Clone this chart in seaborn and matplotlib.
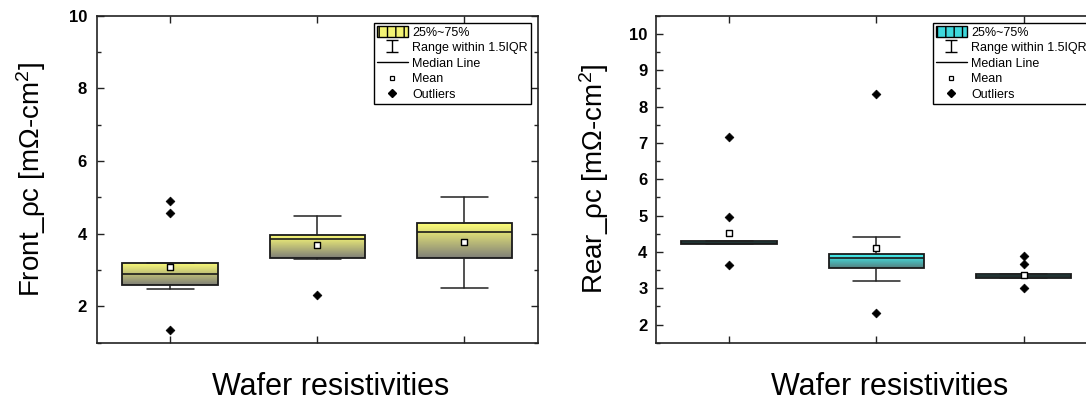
import numpy as np
import matplotlib
matplotlib.use('Agg')
import matplotlib.pyplot as plt
import seaborn as sns
from matplotlib.path import Path
from matplotlib.patches import Patch
from matplotlib.lines import Line2D
from matplotlib.ticker import MultipleLocator, NullLocator

# box statistics (three wafer groups per panel)
positions = [0, 1, 2]

front_q1 = [2.58, 3.32, 3.34]
front_med = [2.90, 3.86, 4.04]
front_q3 = [3.20, 3.97, 4.29]
front_lo = [2.47, 3.30, 2.50]
front_hi = [3.20, 4.50, 5.02]
front_mean = [3.09, 3.69, 3.78]
front_fliers = [[4.91, 4.56, 1.34], [2.30], []]

rear_q1 = [4.22, 3.57, 3.27]
rear_med = [4.25, 3.83, 3.33]
rear_q3 = [4.29, 3.94, 3.39]
rear_lo = [4.22, 3.19, 3.27]
rear_hi = [4.29, 4.41, 3.39]
rear_mean = [4.53, 4.12, 3.35]
rear_fliers = [[7.16, 4.97, 3.63], [8.34, 2.32], [3.88, 3.66, 3.00]]

legend_labels = ['25%~75%', 'Range within 1.5IQR', 'Median Line', 'Mean', 'Outliers']

sns.set_theme(style='ticks')
plt.rcParams['font.family'] = ['Liberation Sans', 'DejaVu Sans']
plt.rcParams['mathtext.fontset'] = 'custom'
plt.rcParams['mathtext.rm'] = 'Liberation Sans'
plt.rcParams['mathtext.it'] = 'Liberation Sans:italic'
plt.rcParams['mathtext.bf'] = 'Liberation Sans:bold'
plt.rcParams['text.color'] = 'black'
plt.rcParams['axes.labelcolor'] = 'black'
plt.rcParams['xtick.color'] = 'black'
plt.rcParams['ytick.color'] = 'black'

# I-beam marker for the whisker legend entry
ibeam = Path([(-1, 1), (1, 1), (0, 1), (0, -1), (-1, -1), (1, -1)],
             [Path.MOVETO, Path.LINETO, Path.MOVETO, Path.LINETO, Path.MOVETO, Path.LINETO])


def draw_panel(ax, q1, med, q3, lo, hi, mean, fliers, top_rgb, bot_rgb, swatch):
    stats = []
    for i in range(len(positions)):
        stats.append(dict(q1=q1[i], med=med[i], q3=q3[i], whislo=lo[i], whishi=hi[i],
                          mean=mean[i], fliers=[]))
    bp = ax.bxp(stats, positions=positions, widths=0.65, capwidths=0.32,
                patch_artist=True, showfliers=False, showmeans=False,
                boxprops=dict(facecolor='none', edgecolor='#1a1a1a', linewidth=1.3),
                medianprops=dict(color='#1a1a1a', linewidth=1.2),
                whiskerprops=dict(color='#222222', linewidth=1.1),
                capprops=dict(color='#222222', linewidth=1.1))

    t = np.linspace(0, 1, 100)[:, None, None]
    grad = np.array(top_rgb)[None, None, :] * (1 - t) + np.array(bot_rgb)[None, None, :] * t
    for i, box in enumerate(bp['boxes']):
        im = ax.imshow(grad, extent=(positions[i] - 0.325, positions[i] + 0.325, q1[i], q3[i]),
                       origin='upper', aspect='auto', zorder=1.5, interpolation='bilinear')
        im.set_clip_path(box)

    fx = [positions[i] for i, f in enumerate(fliers) for _ in f]
    fy = [v for f in fliers for v in f]
    sns.scatterplot(x=fx, y=fy, marker='D', color='black', s=20, edgecolor='black',
                    linewidth=0.5, ax=ax, zorder=4)
    sns.scatterplot(x=positions, y=mean, marker='s', facecolor='white', edgecolor='black',
                    s=13, linewidth=1.0, ax=ax, zorder=4)

    handles = [
        Patch(facecolor=swatch, edgecolor='black', hatch='||', linewidth=1.0),
        Line2D([], [], color='black', marker=ibeam, markersize=9, linestyle='None',
               markerfacecolor='none', markeredgewidth=1.0),
        Line2D([], [], color='black', linewidth=1.0),
        Line2D([], [], color='black', marker='s', markersize=3.5, linestyle='None',
               markerfacecolor='white', markeredgewidth=0.9),
        Line2D([], [], color='black', marker='D', markersize=4, linestyle='None'),
    ]
    leg = ax.legend(handles, legend_labels, loc='upper right', fontsize=9, frameon=True,
                    fancybox=False, framealpha=1, edgecolor='black', borderpad=0.2,
                    labelspacing=0.22, handlelength=2.5, handleheight=1.0,
                    handletextpad=0.35, borderaxespad=0.6)
    leg.get_frame().set_linewidth(1.0)

    ax.set_xlim(-0.5, 2.5)
    ax.set_xticks(positions)
    ax.xaxis.set_minor_locator(NullLocator())
    ax.tick_params(axis='x', which='both', labelbottom=False)
    ax.tick_params(which='both', direction='in', top=True, right=True, color='#222222')
    ax.tick_params(which='major', length=5, width=1.0)
    ax.tick_params(which='minor', length=3, width=1.0)
    for s in ax.spines.values():
        s.set_linewidth(1.2)
        s.set_color('#222222')
    ax.set_xlabel('Wafer resistivities', fontsize=22, labelpad=0)
    ax.xaxis.set_label_coords(0.531, -0.09)


fig = plt.figure(figsize=(10.86, 4.05), dpi=100)
ax1 = fig.add_axes([0.0890, 0.1538, 0.4064, 0.8074])
ax2 = fig.add_axes([0.6038, 0.1538, 0.4064, 0.8074])

draw_panel(ax1, front_q1, front_med, front_q3, front_lo, front_hi, front_mean, front_fliers,
           (1.0, 1.0, 0.47), (0.50, 0.50, 0.47), '#f2f274')
ax1.set_ylim(1.0, 10.0)
ax1.yaxis.set_major_locator(MultipleLocator(2))
ax1.yaxis.set_minor_locator(MultipleLocator(1))
ax1.tick_params(axis='y', labelsize=12, pad=7)
for lab in ax1.get_yticklabels():
    lab.set_fontweight('bold')
ax1.set_ylabel(r'Front_ρc [mΩ-cm$^2$]', fontsize=20)
ax1.yaxis.set_label_coords(-0.110, 0.5)

draw_panel(ax2, rear_q1, rear_med, rear_q3, rear_lo, rear_hi, rear_mean, rear_fliers,
           (0.25, 0.95, 0.95), (0.33, 0.50, 0.50), '#3ed8dc')
ax2.set_ylim(1.5, 10.5)
ax2.yaxis.set_major_locator(MultipleLocator(1))
ax2.yaxis.set_minor_locator(MultipleLocator(0.5))
ax2.tick_params(axis='y', labelsize=12, pad=6)
for lab in ax2.get_yticklabels():
    lab.set_fontweight('bold')
ax2.set_ylabel(r'Rear_ρc [mΩ-cm$^2$]', fontsize=20)
ax2.yaxis.set_label_coords(-0.101, 0.5)

fig.savefig('out.png', dpi=100)
